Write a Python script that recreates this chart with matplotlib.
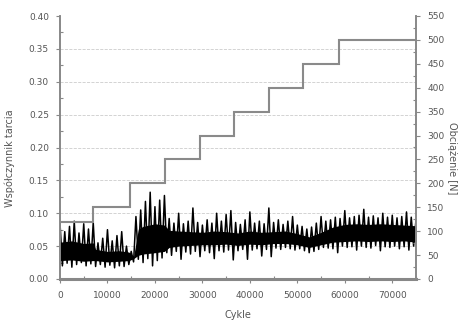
import numpy as np
import matplotlib
matplotlib.use("Agg")
import matplotlib.pyplot as plt
from matplotlib.ticker import MultipleLocator

# ------------------------------ #
#             Data               #
# ------------------------------ #
# friction coefficient: dense core of the signal
core_x = [0, 2500, 5000, 7000, 7500, 10000, 12500, 14500, 15500, 16500, 17500, 20000,
          22000, 23000, 25000, 27500, 30000, 32500, 35000, 37500, 40000, 42500, 45000,
          47500, 50000, 52500, 55000, 57500, 60000, 62500, 65000, 67500, 70000, 72500, 75000]
core_top = [0.056, 0.058, 0.054, 0.055, 0.045, 0.042, 0.043, 0.041, 0.034, 0.076, 0.080, 0.084,
            0.082, 0.074, 0.073, 0.072, 0.071, 0.073, 0.072, 0.070, 0.073, 0.071, 0.072,
            0.073, 0.069, 0.064, 0.071, 0.079, 0.083, 0.084, 0.083, 0.084, 0.083, 0.082, 0.081]
core_bot = [0.028, 0.029, 0.027, 0.028, 0.028, 0.026, 0.027, 0.028, 0.031, 0.036, 0.038, 0.040,
            0.042, 0.048, 0.050, 0.051, 0.052, 0.052, 0.053, 0.051, 0.053, 0.052, 0.054,
            0.054, 0.052, 0.048, 0.052, 0.056, 0.057, 0.058, 0.057, 0.058, 0.057, 0.058, 0.056]

# local maxima every 1000 cycles (0 ... 75000)
peaks = [0.085, 0.072, 0.080, 0.088, 0.070, 0.084, 0.076, 0.086, 0.055, 0.062,
         0.075, 0.058, 0.066, 0.072, 0.050, 0.042, 0.095, 0.105, 0.118, 0.132,
         0.110, 0.120, 0.127, 0.092, 0.085, 0.100, 0.084, 0.088, 0.108, 0.086,
         0.082, 0.090, 0.085, 0.100, 0.088, 0.098, 0.104, 0.086, 0.083, 0.090,
         0.102, 0.085, 0.088, 0.084, 0.108, 0.086, 0.090, 0.083, 0.088, 0.095,
         0.082, 0.080, 0.076, 0.079, 0.085, 0.095, 0.088, 0.090, 0.094, 0.092,
         0.104, 0.093, 0.095, 0.097, 0.106, 0.094, 0.096, 0.093, 0.100, 0.094,
         0.097, 0.093, 0.095, 0.102, 0.094, 0.090]
# local minima every 1000 cycles (500 ... 74500)
troughs = [0.020, 0.024, 0.018, 0.022, 0.025, 0.020, 0.023, 0.019, 0.022, 0.018,
           0.021, 0.017, 0.020, 0.019, 0.022, 0.026, 0.030, 0.025, 0.031, 0.020,
           0.028, 0.032, 0.040, 0.036, 0.042, 0.030, 0.041, 0.038, 0.042, 0.034,
           0.043, 0.040, 0.031, 0.043, 0.041, 0.044, 0.029, 0.043, 0.045, 0.030,
           0.044, 0.046, 0.035, 0.045, 0.034, 0.047, 0.045, 0.048, 0.046, 0.044,
           0.046, 0.043, 0.040, 0.042, 0.045, 0.048, 0.047, 0.046, 0.040, 0.050,
           0.048, 0.049, 0.044, 0.050, 0.048, 0.047, 0.051, 0.043, 0.049, 0.048,
           0.050, 0.046, 0.049, 0.044, 0.050]

# load steps [N]
load_edges = [0, 7000, 14800, 22200, 29400, 36700, 44000, 51200, 58800, 75000]
load_values = [120, 150, 200, 250, 300, 350, 400, 450, 500]

# ------------------------------ #
#           Plotting             #
# ------------------------------ #
peak_x = np.arange(len(peaks)) * 1000
trough_x = np.arange(len(troughs)) * 1000 + 500
zig_x = np.empty(len(peaks) + len(troughs))
zig_y = np.empty_like(zig_x)
zig_x[0::2], zig_y[0::2] = peak_x, peaks
zig_x[1::2], zig_y[1::2] = trough_x, troughs

axis_col = '#888888'
text_col = '#555555'

fig = plt.figure(figsize=(4.61, 3.23), dpi=100)
ax = fig.add_axes([60 / 461, 1 - 279 / 323, 356 / 461, 263 / 323])
ax2 = ax.twinx()

ax.fill_between(core_x, core_bot, core_top, color='black', lw=0)
ax.plot(zig_x, zig_y, color='black', lw=1.1)

for y in np.arange(0.05, 0.40, 0.05):
    ax.axhline(y, color='#cccccc', ls='--', lw=0.6, zorder=0)

ax2.stairs(load_values, load_edges, color='#8a8a8a', lw=1.5, baseline=None)

ax.set_xlim(0, 75000)
ax.set_ylim(0, 0.40)
ax2.set_ylim(0, 550)

ax.xaxis.set_major_locator(MultipleLocator(10000))
ax.xaxis.set_minor_locator(MultipleLocator(5000))
ax.yaxis.set_major_locator(MultipleLocator(0.05))
ax.yaxis.set_minor_locator(MultipleLocator(0.025))
ax2.yaxis.set_major_locator(MultipleLocator(50))
ax2.yaxis.set_minor_locator(MultipleLocator(25))
ax.yaxis.set_major_formatter(plt.FormatStrFormatter('%.2f'))

for a in (ax, ax2):
    a.spines['top'].set_visible(False)
    for s in ('left', 'right', 'bottom'):
        a.spines[s].set_color(axis_col)
        a.spines[s].set_linewidth(1.2)
    a.tick_params(which='major', direction='out', length=3, width=0.8,
                  color=axis_col, labelsize=6.5, labelcolor=text_col, pad=5)
    a.tick_params(which='minor', direction='in', length=2, width=0.8, color=axis_col)
ax.tick_params(axis='x', which='major', pad=6)
ax.spines['bottom'].set_linewidth(2.2)

ax.set_xlabel('Cykle', fontsize=7, color=text_col, labelpad=7)
ax.set_ylabel('Współczynnik tarcia', fontsize=7, color=text_col)
ax.yaxis.set_label_coords(-0.125, 0.46)
ax2.set_ylabel('Obciążenie [N]', fontsize=7, color=text_col, rotation=270)
ax2.yaxis.set_label_coords(1.115, 0.46)

fig.savefig('out.png', dpi=100)
